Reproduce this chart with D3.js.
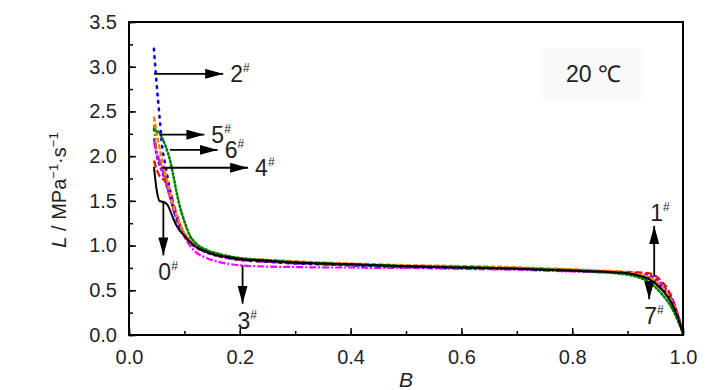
<!DOCTYPE html>
<html><head><meta charset="utf-8">
<script src="https://cdn.jsdelivr.net/npm/d3@7"></script>
<style>body{margin:0;background:#fff}svg{display:block}text{font-family:"Liberation Sans",Arial,sans-serif;fill:#231f20}</style>
</head><body><svg id="c" width="727" height="390"></svg>
<script>
// ---- data ----
const B = [0.045,0.05,0.055,0.06,0.065,0.07,0.075,0.08,0.09,0.1,0.11,0.12,0.14,0.16,0.18,0.2,0.25,0.3,0.35,0.4,0.45,0.5,0.55,0.6,0.65,0.7,0.75,0.8,0.85,0.88,0.9,0.92,0.94,0.96,0.98,0.99,1.0];
const L0 = [1.88,1.62,1.50,1.49,1.48,1.45,1.38,1.30,1.18,1.11,1.04,0.99,0.93,0.89,0.87,0.85,0.83,0.81,0.80,0.79,0.78,0.77,0.76,0.755,0.75,0.74,0.73,0.72,0.71,0.70,0.69,0.665,0.62,0.52,0.35,0.21,0.02];
const L1 = [1.95,1.85,1.78,1.75,1.73,1.68,1.60,1.48,1.27,1.13,1.04,0.99,0.93,0.89,0.86,0.84,0.82,0.805,0.795,0.785,0.775,0.765,0.76,0.755,0.75,0.745,0.735,0.725,0.715,0.71,0.705,0.70,0.69,0.61,0.42,0.24,0.02];
const L2 = [3.2,2.8,2.45,2.1,1.92,1.75,1.58,1.42,1.24,1.12,1.04,0.99,0.93,0.89,0.86,0.84,0.82,0.80,0.79,0.78,0.77,0.76,0.755,0.75,0.745,0.74,0.73,0.72,0.71,0.70,0.69,0.67,0.63,0.54,0.37,0.22,0.02];
const L3 = [2.15,2.05,1.95,1.85,1.75,1.63,1.52,1.42,1.24,1.10,1.00,0.93,0.86,0.82,0.795,0.78,0.765,0.76,0.755,0.755,0.75,0.75,0.745,0.74,0.735,0.73,0.72,0.71,0.70,0.695,0.69,0.675,0.64,0.56,0.39,0.24,0.02];
const L4 = [2.35,2.05,1.95,1.88,1.78,1.66,1.55,1.44,1.27,1.14,1.05,1.00,0.94,0.90,0.87,0.855,0.83,0.81,0.80,0.79,0.78,0.77,0.765,0.76,0.755,0.75,0.74,0.73,0.715,0.705,0.695,0.67,0.62,0.52,0.35,0.20,0.02];
const L5 = [2.44,2.25,2.10,1.95,1.82,1.70,1.57,1.44,1.27,1.14,1.06,1.01,0.95,0.91,0.88,0.86,0.84,0.825,0.81,0.80,0.79,0.78,0.775,0.77,0.765,0.755,0.745,0.735,0.72,0.71,0.70,0.68,0.64,0.55,0.37,0.22,0.02];
const L6 = [2.30,2.28,2.26,2.20,2.13,2.04,1.93,1.78,1.48,1.27,1.11,1.03,0.95,0.91,0.88,0.86,0.835,0.815,0.80,0.79,0.78,0.77,0.765,0.76,0.75,0.745,0.735,0.72,0.705,0.69,0.675,0.645,0.585,0.47,0.30,0.17,0.02];
const L7 = [2.20,2.00,1.90,1.82,1.72,1.62,1.52,1.40,1.23,1.10,1.03,0.98,0.92,0.88,0.86,0.845,0.82,0.80,0.79,0.78,0.77,0.76,0.755,0.75,0.745,0.74,0.73,0.72,0.71,0.705,0.70,0.69,0.665,0.58,0.40,0.24,0.02];
const seriesNames = ["0#","1#","2#","3#","4#","5#","6#","7#"];
const seriesColors = ["#000000","#ff0000","#0000ff","#ff00ff","#808000","#ff8000","#008000","#8000ff"];
const xTicks = [0.0,0.2,0.4,0.6,0.8,1.0];
const yTicks = [0.0,0.5,1.0,1.5,2.0,2.5,3.0,3.5];
// annotations: [label, x1, y1, x2(tip), y2(tip)]
const arrows = [
  ["2", 0.045, 2.92, 0.170, 2.92],
  ["5", 0.056, 2.24, 0.136, 2.24],
  ["6", 0.074, 2.07, 0.160, 2.07],
  ["4", 0.059, 1.87, 0.215, 1.87],
  ["0", 0.062, 1.50, 0.062, 0.89],
  ["3", 0.205, 0.78, 0.205, 0.35],
  ["1", 0.948, 0.65, 0.948, 1.22],
  ["7", 0.939, 0.59, 0.939, 0.40]
];

// ---- layout ----
const svg = d3.select("#c");
const m = {l:129, r:683, t:22, b:335};
const x = d3.scaleLinear().domain([0,1]).range([m.l,m.r]);
const y = d3.scaleLinear().domain([0,3.5]).range([m.b,m.t]);

const defs = svg.append("defs");
defs.append("clipPath").attr("id","clip").append("rect")
  .attr("x",m.l).attr("y",m.t).attr("width",m.r-m.l).attr("height",m.b-m.t);

const styles = [
  {dash:null, w:2},
  {dash:"7,3", w:2.2},
  {dash:"1.5,6", w:2.6, cap:"round"},
  {dash:"7,2,2,2", w:2.2},
  {dash:"7,2,2,2,2,2", w:2.2},
  {dash:"5,2", w:2.4},
  {dash:"1.5,2.6", w:2.6, cap:"round"},
  {dash:"4,2", w:2.2}
];
const allL = [L0,L1,L2,L3,L4,L5,L6,L7];
const line = d3.line().x(d=>x(d[0])).y(d=>y(d[1])).curve(d3.curveMonotoneX);
const gL = svg.append("g").attr("clip-path","url(#clip)");
const order = [7,4,3,1,2,5,6,0];
order.forEach(i=>{
  const pts = B.map((b,k)=>[b, allL[i][k]]);
  gL.append("path").attr("d", line(pts)).attr("fill","none")
    .attr("stroke", seriesColors[i]).attr("stroke-width", styles[i].w)
    .attr("stroke-dasharray", styles[i].dash)
    .attr("stroke-linecap", styles[i].cap || "butt");
});

// axes
const xMinor = d3.range(0,1.0001,0.1);
const yMinor = d3.range(0,3.5001,0.25);
const xa = svg.append("g").attr("transform",`translate(0,${m.b})`)
  .call(d3.axisBottom(x).tickValues(xMinor).tickSize(-4).tickFormat(""));
xa.select(".domain").remove();
const xa2 = svg.append("g").attr("transform",`translate(0,${m.b})`)
  .call(d3.axisBottom(x).tickValues(xTicks).tickSize(-7).tickPadding(15).tickFormat(d3.format(".1f")));
xa2.select(".domain").remove();
xa2.selectAll("text").attr("font-size",20).attr("fill","#231f20").attr("dy","0.72em");

const ya = svg.append("g").attr("transform",`translate(${m.l},0)`)
  .call(d3.axisLeft(y).tickValues(yMinor).tickSize(-4).tickFormat(""));
ya.select(".domain").remove();
const ya2 = svg.append("g").attr("transform",`translate(${m.l},0)`)
  .call(d3.axisLeft(y).tickValues(yTicks).tickSize(-7).tickPadding(12).tickFormat(d3.format(".1f")));
ya2.select(".domain").remove();
ya2.selectAll("text").attr("font-size",20).attr("fill","#231f20");
svg.selectAll(".tick line").attr("stroke","#000").attr("stroke-width",1.5);

svg.append("rect").attr("x",m.l).attr("y",m.t).attr("width",m.r-m.l).attr("height",m.b-m.t)
  .attr("fill","none").attr("stroke","#000").attr("stroke-width",2);

// axis titles
svg.append("text").attr("x",(m.l+m.r)/2).attr("y",387).attr("text-anchor","middle")
  .attr("font-size",21).attr("font-style","italic").text("B");
const yt = svg.append("text").attr("transform","translate(66,190) rotate(-90)")
  .attr("text-anchor","middle").attr("font-size",20);
yt.append("tspan").attr("font-style","italic").text("L");
yt.append("tspan").text(" / MPa");
yt.append("tspan").attr("font-size",13).attr("dy",-8).text("\u22121");
yt.append("tspan").attr("dy",8).text("\u00b7s");
yt.append("tspan").attr("font-size",13).attr("dy",-8).text("\u22121");

// temperature box
svg.append("rect").attr("x",541).attr("y",48).attr("width",102).attr("height",52).attr("fill","#fafafa");
svg.append("text").attr("x",566).attr("y",82).attr("font-size",23).text("20 \u2103");

// annotations
defs.append("marker").attr("id","ah").attr("viewBox","0 0 18 10").attr("refX",18).attr("refY",5)
  .attr("markerWidth",18).attr("markerHeight",10).attr("markerUnits","userSpaceOnUse")
  .attr("orient","auto").append("path").attr("d","M0,0 L18,5 L0,10 Z").attr("fill","#000");
const ga = svg.append("g");
arrows.forEach(([lab,x1,y1,x2,y2])=>{
  ga.append("line").attr("x1",x(x1)).attr("y1",y(y1)).attr("x2",x(x2)).attr("y2",y(y2))
    .attr("stroke","#000").attr("stroke-width",1.8).attr("marker-end","url(#ah)");
  let tx, ty;
  if (y1===y2) { tx = x(x2)+7; ty = y(y2)+8; }
  else if (y2>y1) { tx = x(x2)-4; ty = y(y2)-5; }
  else { tx = x(x2)-5; ty = y(y2)+25; }
  const t = ga.append("text").attr("x",tx).attr("y",ty).attr("font-size",23);
  t.append("tspan").text(lab);
  t.append("tspan").attr("font-size",12).attr("dy",-10).text("#");
});
</script></body></html>
